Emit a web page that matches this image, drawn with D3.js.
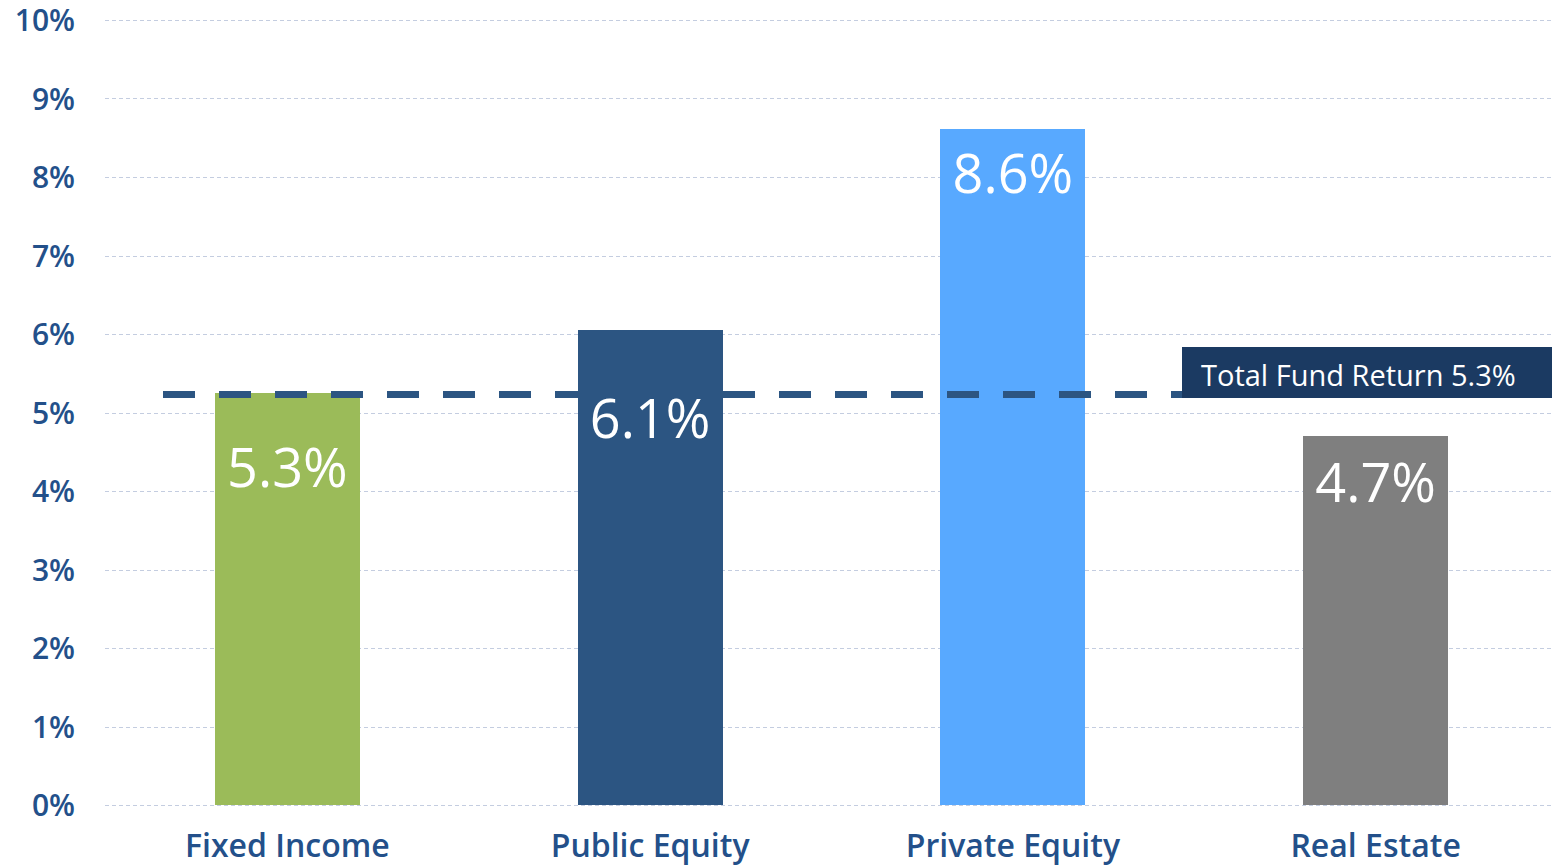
<!DOCTYPE html>
<html>
<head>
<meta charset="utf-8">
<script src="https://cdn.jsdelivr.net/npm/d3@7"></script>
<style>
  body { margin: 0; background: #fff; }
  svg { display: block; font-family: "Open Sans", "DejaVu Sans", sans-serif; }
</style>
</head>
<body>
<div id="chart"></div>
<script>
// Data
var categories = ["Fixed Income", "Public Equity", "Private Equity", "Real Estate"];
var returns = [5.25, 6.05, 8.61, 4.7];
var valueLabels = ["5.3%", "6.1%", "8.6%", "4.7%"];
var barColors = ["#9bbb59", "#2c5582", "#58a9ff", "#7f7f7f"];
var yTicks = [0, 1, 2, 3, 4, 5, 6, 7, 8, 9, 10];
var totalFund = 5.25;
var totalFundLabel = "Total Fund Return 5.3%";

// Layout tweaks for the labels inside the bars (px below bar top)
var labelDy = [94, 108, 64, 66];

var svgWidth = 1552;
var svgHeight = 868;

var svg = d3.select("#chart")
    .append("svg")
    .attr("width", svgWidth)
    .attr("height", svgHeight)
    .attr("shape-rendering", "crispEdges");

// Scales
var xScale = d3.scaleBand()
    .domain(categories)
    .range([106, 1557])
    .paddingInner(0.6)
    .paddingOuter(0.3);

var yScale = d3.scaleLinear()
    .domain([0, 10])
    .range([805, 20]);

// Gridlines
svg.append("g")
    .selectAll("line")
    .data(yTicks)
    .enter()
    .append("line")
    .attr("x1", 105)
    .attr("x2", 1552)
    .attr("y1", d => Math.round(yScale(d)) + 0.5)
    .attr("y2", d => Math.round(yScale(d)) + 0.5)
    .attr("stroke", "#c4cde0")
    .attr("stroke-width", 1)
    .attr("stroke-dasharray", "4,3");

// Y axis labels
var yAxis = d3.axisLeft(yScale)
    .tickValues(yTicks)
    .tickFormat(d => d + "%")
    .tickSize(0)
    .tickPadding(0);

var yAxisG = svg.append("g")
    .attr("transform", "translate(75, 1)")
    .call(yAxis);
yAxisG.select(".domain").remove();
yAxisG.selectAll("text")
    .attr("fill", "#23508a")
    .attr("font-size", "30px")
    .attr("font-weight", 600)
    .attr("font-family", "'Open Sans', sans-serif");

// X axis labels
var xAxis = d3.axisBottom(xScale).tickSize(0).tickPadding(0);
var xAxisG = svg.append("g")
    .attr("transform", "translate(0, 834)")
    .call(xAxis);
xAxisG.select(".domain").remove();
xAxisG.selectAll("text")
    .attr("fill", "#23508a")
    .attr("font-size", "32px")
    .attr("font-weight", 600)
    .attr("font-family", "'Open Sans', sans-serif");

// Bars
svg.append("g")
    .selectAll("rect")
    .data(categories)
    .enter()
    .append("rect")
    .attr("x", d => Math.round(xScale(d)))
    .attr("y", (d, i) => Math.round(yScale(returns[i])))
    .attr("width", Math.round(xScale.bandwidth()))
    .attr("height", (d, i) => Math.round(yScale(0)) - Math.round(yScale(returns[i])))
    .attr("fill", (d, i) => barColors[i]);

// Total fund dashed line
svg.append("line")
    .attr("x1", 163)
    .attr("x2", 1182)
    .attr("y1", Math.round(yScale(totalFund)) + 1)
    .attr("y2", Math.round(yScale(totalFund)) + 1)
    .attr("stroke", "#2c5582")
    .attr("stroke-width", 7)
    .attr("stroke-dasharray", "32,24");

// Label backgrounds (cover the dashed line behind the label)
svg.append("g")
    .selectAll("rect")
    .data(categories)
    .enter()
    .append("rect")
    .attr("x", d => Math.round(xScale(d)))
    .attr("y", (d, i) => Math.round(yScale(returns[i])) + labelDy[i] - 52)
    .attr("width", Math.round(xScale.bandwidth()))
    .attr("height", 64)
    .attr("fill", (d, i) => barColors[i]);

// Value labels
svg.append("g")
    .attr("shape-rendering", "auto")
    .selectAll("text")
    .data(categories)
    .enter()
    .append("text")
    .attr("x", d => xScale(d) + xScale.bandwidth() / 2)
    .attr("y", (d, i) => yScale(returns[i]) + labelDy[i])
    .attr("text-anchor", "middle")
    .attr("fill", "#ffffff")
    .attr("font-size", "54px")
    .text((d, i) => valueLabels[i]);

// Total fund label box
svg.append("rect")
    .attr("x", 1182)
    .attr("y", 347)
    .attr("width", 370)
    .attr("height", 51)
    .attr("fill", "#1b3a62");

svg.append("text")
    .attr("x", 1201)
    .attr("y", 386)
    .attr("fill", "#ffffff")
    .attr("font-size", "29px")
    .text(totalFundLabel);
</script>
</body>
</html>
